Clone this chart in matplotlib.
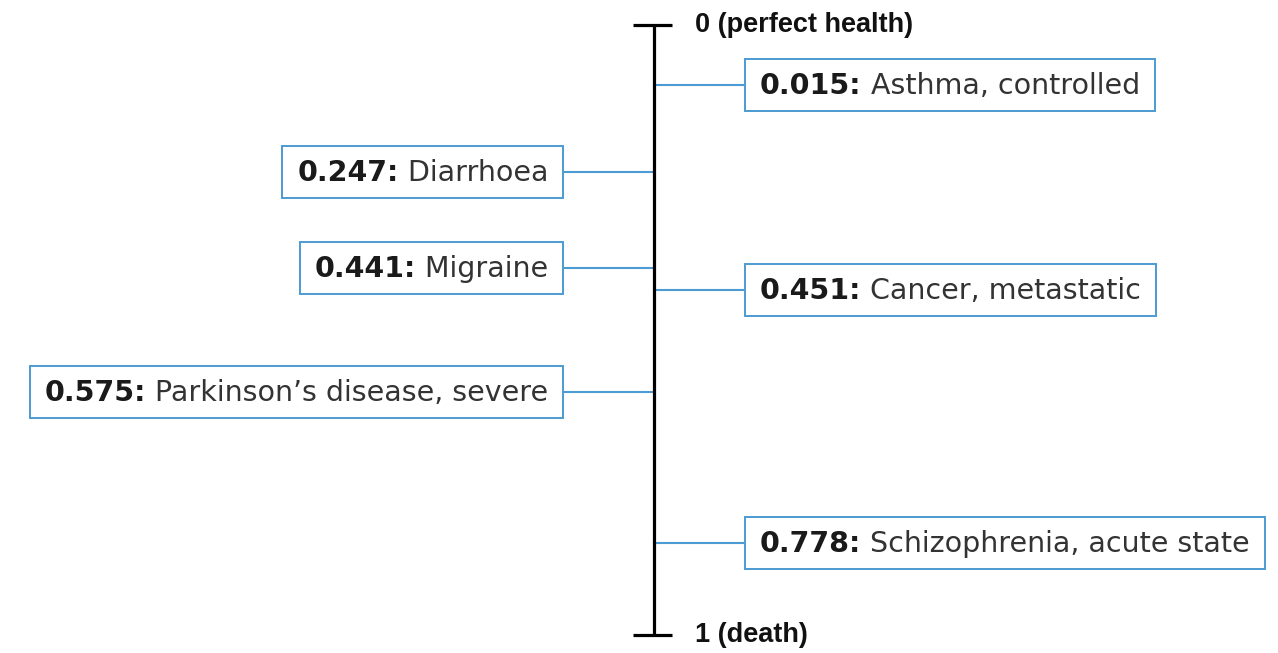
import matplotlib.pyplot as plt
from matplotlib.patches import Rectangle

# disability weights
values = ["0.015", "0.247", "0.441", "0.451", "0.575", "0.778"]
conditions = ["Asthma, controlled", "Diarrhoea", "Migraine",
              "Cancer, metastatic", "Parkinson\u2019s disease, severe",
              "Schizophrenia, acute state"]
# where each connector meets the scale (0 = top, 1 = bottom), as drawn
axis_pos = [0.098, 0.241, 0.398, 0.434, 0.602, 0.849]
sides = ["right", "left", "left", "right", "left", "right"]
end_labels = ["0 (perfect health)", "1 (death)"]
end_pos = [0, 1]

blue = "#4c9bd3"
W, H = 1278, 653
span = 610.0  # pixels from 0 to 1 on the scale

fig = plt.figure(figsize=(W / 100, H / 100), dpi=100)
ax = fig.add_axes([0, 0, 1, 1])
ax.set_xlim(-654, W - 654)
ax.set_ylim(1 + 18 / span, -25 / span)
ax.axis("off")

# the scale itself
ax.plot([0, 0], [0, 1], color="black", lw=2.3, solid_capstyle="butt", zorder=3)
for p, lab in zip(end_pos, end_labels):
    ax.plot([-21, 18], [p, p], color="black", lw=2.3, solid_capstyle="butt", zorder=3)
    ax.text(41, p + 7 / span, lab, fontsize=19.5, fontweight="bold",
            family="Liberation Sans", color="#111111", va="baseline", ha="left")

renderer = fig.canvas.get_renderer()
gap = 91
pad = 15
box_h = 52

for val, cond, y, side in zip(values, conditions, axis_pos, sides):
    tb = ax.text(0, y + 9 / span, val + ":", fontsize=20.5, fontweight="bold",
                 family="DejaVu Sans", color="#1a1a1a", va="baseline", zorder=5)
    tr = ax.text(0, y + 9 / span, " " + cond, fontsize=20.5,
                 family="DejaVu Sans", color="#333333", va="baseline", zorder=5)
    wb = tb.get_window_extent(renderer).width
    wr = tr.get_window_extent(renderer).width
    box_w = wb + wr + 2 * pad
    if side == "right":
        x0 = gap
        ax.plot([0, gap], [y, y], color=blue, lw=1.5, zorder=2)
    else:
        x0 = -gap - box_w
        ax.plot([-gap, 0], [y, y], color=blue, lw=1.5, zorder=2)
    tb.set_x(x0 + pad)
    tr.set_x(x0 + pad + wb)
    ax.add_patch(Rectangle((x0, y - box_h / 2 / span), box_w, box_h / span,
                           facecolor="white", edgecolor=blue, lw=1.4, zorder=4))

fig.savefig("out.png", dpi=100, facecolor="white")
